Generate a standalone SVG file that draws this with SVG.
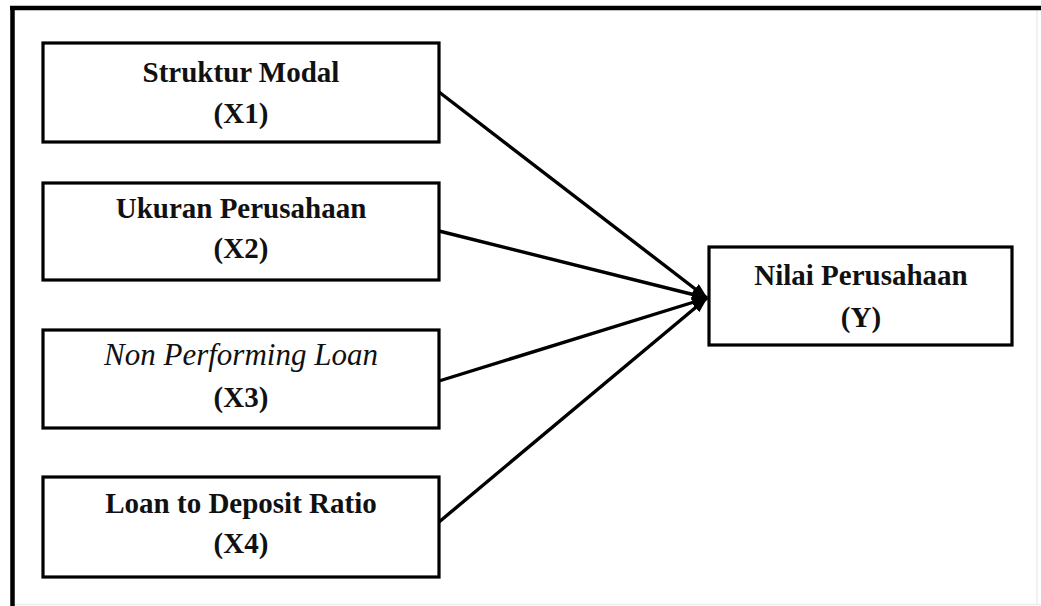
<svg xmlns="http://www.w3.org/2000/svg" width="1041" height="606" viewBox="0 0 1041 606">
<style>
.box{fill:#ffffff;stroke:#000000;stroke-width:3.2}
.t{font-family:"Liberation Serif","Times New Roman",serif;font-size:29px;font-weight:bold;fill:#111111;text-anchor:middle}
.i{font-style:italic;font-weight:normal;font-size:31px}
.c{stroke:#000000;stroke-width:3.4;fill:none;marker-end:url(#ah)}
</style>
<defs>
<marker id="ah" viewBox="0 0 16 12" refX="15" refY="6" markerWidth="16" markerHeight="12" markerUnits="userSpaceOnUse" orient="auto">
<path d="M0,0 L16,6 L0,12 Z" fill="#000000"/>
</marker>
</defs>
<rect width="1041" height="606" fill="#ffffff"/>
<g id="frame">
<line x1="1037" y1="10" x2="1037" y2="604" stroke="#ececec" stroke-width="1.5"/>
<line x1="14" y1="604.5" x2="1041" y2="604.5" stroke="#ececec" stroke-width="1.5"/>
<line x1="10" y1="8" x2="1041" y2="8" stroke="#000000" stroke-width="4.5"/>
<line x1="12.5" y1="6" x2="12.5" y2="606" stroke="#000000" stroke-width="4.5"/>
</g>
<g id="connectors">
<line class="c" x1="439" y1="92" x2="707" y2="298"/>
<line class="c" x1="439" y1="231" x2="707" y2="298"/>
<line class="c" x1="439" y1="381" x2="707" y2="298"/>
<line class="c" x1="439" y1="522" x2="707" y2="298"/>
</g>
<g id="x1">
<rect class="box" x="43" y="43" width="396" height="99"/>
<text class="t" x="241" y="82">Struktur Modal</text>
<text class="t" x="241" y="123">(X1)</text>
</g>
<g id="x2">
<rect class="box" x="43" y="183" width="396" height="97"/>
<text class="t" x="241" y="218">Ukuran Perusahaan</text>
<text class="t" x="241" y="258">(X2)</text>
</g>
<g id="x3">
<rect class="box" x="43" y="330" width="396" height="98"/>
<text class="t i" x="241" y="365">Non Performing Loan</text>
<text class="t" x="241" y="407">(X3)</text>
</g>
<g id="x4">
<rect class="box" x="43" y="477" width="396" height="100"/>
<text class="t" x="241" y="513">Loan to Deposit Ratio</text>
<text class="t" x="241" y="553">(X4)</text>
</g>
<g id="y">
<rect class="box" x="709" y="247" width="303" height="98"/>
<text class="t" x="861" y="285">Nilai Perusahaan</text>
<text class="t" x="861" y="327">(Y)</text>
</g>
</svg>
